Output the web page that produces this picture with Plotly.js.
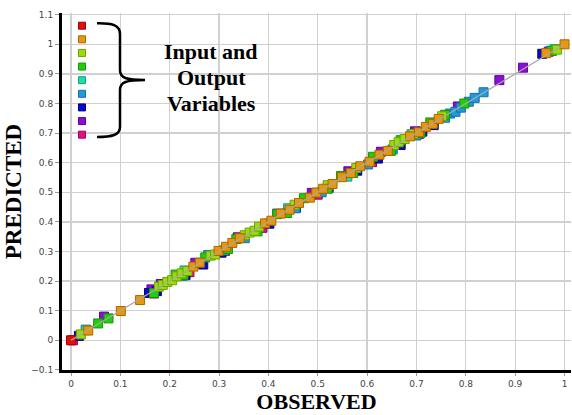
<!DOCTYPE html>
<html><head><meta charset="utf-8">
<script src="https://cdn.plot.ly/plotly-3.0.1.min.js"></script>
<style>html,body{margin:0;padding:0;background:#fff}#chart{width:572px;height:415px}</style>
</head><body><div id="chart"></div>
<script>
// ---- series (legend order) ----
const seriesNames = ["Variable 1","Variable 2","Variable 3","Variable 4","Variable 5","Variable 6","Variable 7","Variable 8","Variable 9"];
const seriesFill   = ["#e01010","#e8960c","#99dd11","#22cc11","#22ddaa","#2299dd","#0a0acc","#8a10d0","#e01088"];
const seriesEdge   = ["#a00000","#a86800","#70a000","#119900","#11a080","#1070b0","#000090","#6000a0","#a00060"];

// observed / predicted values, one pair of arrays per series
const redObs = [0.000];
const redPred = [0.000];
const orangeObs  = [0.035,0.101,0.140,0.248,0.261,0.299,0.314,0.327,0.342,0.393,0.406,0.425,0.443,0.462,0.484,0.497,0.511,0.530,0.549,0.567,0.586,0.605,0.625,0.642,0.687,0.705,0.719,0.733,0.745,0.963,1.000];
const orangePred = [0.033,0.099,0.136,0.249,0.262,0.302,0.316,0.329,0.345,0.395,0.404,0.428,0.441,0.464,0.482,0.499,0.512,0.528,0.551,0.565,0.588,0.603,0.627,0.640,0.689,0.703,0.721,0.731,0.748,0.970,1.000];
const ygObs  = [0.020,0.178,0.186,0.195,0.205,0.214,0.224,0.236,0.283,0.292,0.352,0.362,0.372,0.381,0.453,0.520,0.578,0.655,0.664,0.676,0.694,0.752,0.985];
const ygPred = [0.020,0.181,0.187,0.197,0.203,0.216,0.226,0.234,0.286,0.290,0.355,0.364,0.370,0.384,0.458,0.524,0.582,0.660,0.669,0.680,0.697,0.757,0.982];
const greenObs  = [0.055,0.076,0.168,0.212,0.228,0.272,0.318,0.335,0.378,0.418,0.438,0.472,0.520,0.547,0.572,0.612,0.648,0.668,0.708,0.728,0.758,0.797,0.975];
const greenPred = [0.057,0.074,0.160,0.222,0.220,0.280,0.308,0.342,0.368,0.426,0.430,0.480,0.512,0.555,0.565,0.620,0.640,0.676,0.700,0.736,0.762,0.800,0.978];
const tealObs  = [0.030,0.230,0.310,0.440,0.560,0.690,0.980];
const tealPred = [0.034,0.236,0.304,0.446,0.553,0.696,0.984];
const blueObs  = [0.030,0.225,0.278,0.352,0.455,0.508,0.602,0.652,0.700,0.758,0.768,0.779,0.790,0.806,0.818,0.836,0.972];
const bluePred = [0.036,0.218,0.288,0.345,0.446,0.500,0.594,0.645,0.692,0.752,0.766,0.772,0.786,0.806,0.819,0.838,0.978];
const dkblueObs  = [0.016,0.158,0.166,0.174,0.232,0.268,0.305,0.402,0.456,0.522,0.580,0.622,0.668,0.712,0.735,0.955];
const dkbluePred = [0.015,0.160,0.160,0.166,0.220,0.256,0.296,0.394,0.448,0.515,0.573,0.614,0.660,0.705,0.727,0.968];
const purpleObs  = [0.067,0.163,0.182,0.252,0.338,0.418,0.488,0.562,0.628,0.697,0.784,0.868,0.916,0.968];
const purplePred = [0.080,0.172,0.190,0.262,0.348,0.428,0.498,0.571,0.637,0.706,0.790,0.879,0.921,0.975];
const magentaObs  = [0.004,0.168,0.240,0.312,0.388,0.500,0.610,0.705];
const magentaPred = [0.000,0.158,0.230,0.302,0.380,0.492,0.602,0.697];

// identity line
const refLineX = [0, 1];
const refLineY = [0, 1];

const obsAll  = [redObs, orangeObs, ygObs, greenObs, tealObs, blueObs, dkblueObs, purpleObs, magentaObs];
const predAll = [redPred, orangePred, ygPred, greenPred, tealPred, bluePred, dkbluePred, purplePred, magentaPred];

// pixel -> data helpers (for decorations only)
const X0 = 71.0, XS = 493.5, Y0 = 340.3, YS = 296;
const px2x = p => (p - X0) / XS;
const px2y = p => (Y0 - p) / YS;

const traces = [];
// draw in reverse legend order (last legend entry at the bottom)
for (let i = seriesNames.length - 1; i >= 0; i--) {
  traces.push({
    type: 'scatter', mode: 'markers', name: seriesNames[i],
    x: obsAll[i], y: predAll[i], showlegend: false, hoverinfo: 'x+y+name',
    marker: {symbol: 'square', size: 9, color: seriesFill[i], line: {color: seriesEdge[i], width: 1}}
  });
}
traces.push({
  type: 'scatter', mode: 'lines', x: refLineX, y: refLineY, showlegend: false,
  line: {color: '#a8a8a8', width: 1.3}, hoverinfo: 'skip'
});
// custom legend keys
traces.push({
  type: 'scatter', mode: 'markers', showlegend: false, hoverinfo: 'skip',
  x: seriesNames.map(() => px2x(82)),
  y: seriesNames.map((_, i) => px2y(25.7 + i * 13.62)),
  marker: {symbol: 'square', size: 7, color: seriesFill, line: {color: seriesEdge, width: 1}}
});

// curly brace
const P = (x, y) => px2x(x).toFixed(5) + ',' + px2y(y).toFixed(5);
const bracePath = 'M' + P(97,23.3) + ' C' + P(112,23) + ' ' + P(120,25) + ' ' + P(120,34) +
  ' L' + P(120,70) + ' C' + P(120,78) + ' ' + P(126,80) + ' ' + P(145,80) +
  ' C' + P(126,80) + ' ' + P(120,82) + ' ' + P(120,90) +
  ' L' + P(120,127) + ' C' + P(120,135) + ' ' + P(112,137) + ' ' + P(97,137);

const noteFont = {family: 'Liberation Serif, Times New Roman, serif', size: 22, color: '#000'};
const noteLines = ['Input and', 'Output', 'Variables'];
const noteY = [51, 77, 103];

const axisTick = {family: 'DejaVu Sans, sans-serif', size: 9, color: '#444'};

const layout = {
  width: 572, height: 415,
  margin: {l: 62, r: 1, t: 13, b: 45, pad: 0},
  paper_bgcolor: '#fff', plot_bgcolor: '#fff',
  showlegend: false,
  xaxis: {
    range: [-9/XS, 500/XS], dtick: 0.1, tick0: 0,
    showgrid: true, gridcolor: '#d0d0d0', gridwidth: 1.3, zeroline: false,
    showline: true, linecolor: '#000', linewidth: 3,
    ticks: 'outside', ticklen: 3, tickcolor: '#999', tickwidth: 1,
    tickfont: axisTick,
    title: {text: '<b>OBSERVED</b>', standoff: 2, font: {family: 'Liberation Serif, Times New Roman, serif', size: 22, color: '#000'}}
  },
  yaxis: {
    range: [px2y(370), px2y(13)], dtick: 0.1, tick0: 0,
    showgrid: true, gridcolor: '#d0d0d0', gridwidth: 1.3, zeroline: false,
    showline: true, linecolor: '#000', linewidth: 3,
    ticks: 'outside', ticklen: 4, tickcolor: '#999', tickwidth: 1,
    tickfont: axisTick,
    title: {text: '<b>PREDICTED</b>', standoff: 4, font: {family: 'Liberation Serif, Times New Roman, serif', size: 23, color: '#000'}}
  },
  shapes: [{type: 'path', xref: 'x', yref: 'y', path: bracePath, line: {color: '#000', width: 2.5}}],
  annotations: noteLines.map((t, i) => ({
    xref: 'x', yref: 'y', x: px2x(211), y: px2y(noteY[i]), text: '<b>' + t + '</b>',
    showarrow: false, xanchor: 'center', yanchor: 'middle', font: noteFont
  }))
};

Plotly.newPlot('chart', traces, layout, {displayModeBar: false, staticPlot: true});
</script></body></html>
